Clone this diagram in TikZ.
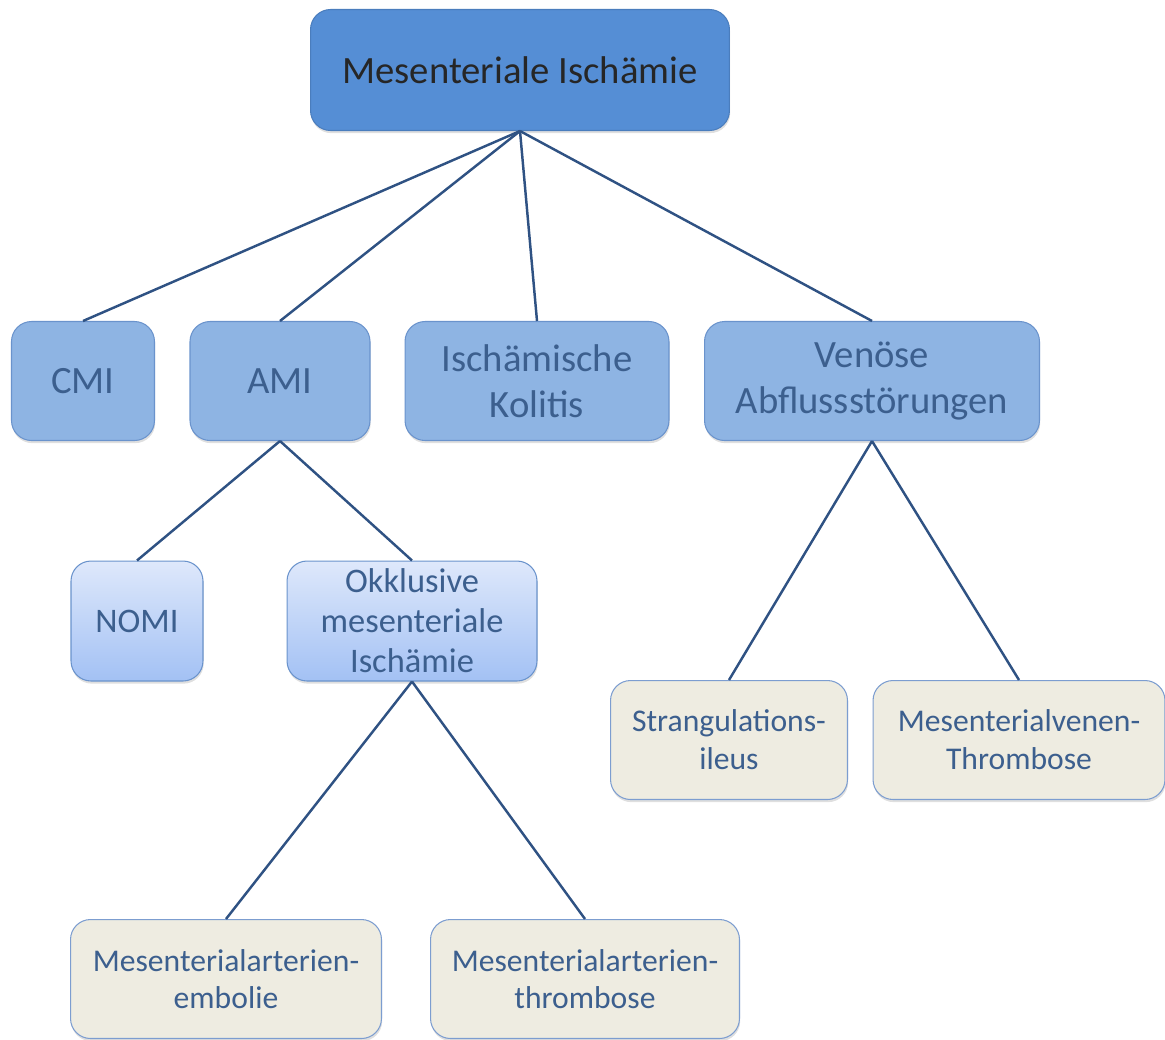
\documentclass[tikz,border=0pt]{standalone}
\usepackage{fontspec}
\setmainfont{Carlito}
\usetikzlibrary{shadows}
\definecolor{linie}{HTML}{2F5283}
\definecolor{textblau}{HTML}{3C5F8E}
\definecolor{wurzelfill}{HTML}{558ED5}
\definecolor{wurzelrand}{HTML}{4A7DBD}
\definecolor{ebeneeins}{HTML}{8EB4E3}
\definecolor{ebenerand}{HTML}{6A93CC}
\definecolor{helloben}{HTML}{DEE8FB}
\definecolor{hellunten}{HTML}{A3C1F4}
\definecolor{beige}{HTML}{EEECE1}
\definecolor{beigerand}{HTML}{7C9DD0}
\tikzset{
	kasten/.style={draw, rounded corners=0.4cm, align=center, inner sep=2pt, line width=0.6pt,
		drop shadow={opacity=0.25, shadow xshift=0.4pt, shadow yshift=-1.5pt}},
	wurzel/.style={kasten, fill=wurzelfill, draw=wurzelrand, text=black!85,
		font=\fontsize{22}{26}\selectfont},
	hauptast/.style={kasten, fill=ebeneeins, draw=ebenerand, text=textblau,
		font=\fontsize{22}{26.5}\selectfont},
	unterast/.style={kasten, top color=helloben, bottom color=hellunten, draw=ebenerand,
		text=textblau, font=\fontsize{19.6}{22.7}\selectfont},
	blatt/.style={kasten, fill=beige, draw=beigerand, text=textblau,
		font=\fontsize{18}{21.5}\selectfont},
	ast/.style={draw=linie, line width=1.4pt}
}

\begin{document}
\begin{tikzpicture}[x=0.02cm,y=-0.02cm]
	\useasboundingbox (0,0) rectangle (1165,1039);
	% oberste Ebene
	\node [wurzel, minimum width=8.38cm, minimum height=2.42cm] (mi) at (520,70) {Mesenteriale Isch\"amie};
	% erste Ebene
	\node [hauptast, minimum width=2.86cm, minimum height=2.38cm] (cmi) at (83,381) {CMI};
	\node [hauptast, minimum width=3.6cm, minimum height=2.38cm] (ami) at (280,381) {AMI};
	\node [hauptast, minimum width=5.28cm, minimum height=2.38cm] (kolitis) at (537,381) {Isch\"amische\\Kolitis};
	\node [hauptast, minimum width=6.7cm, minimum height=2.38cm] (venoes) at (872,381) {Ven\"ose\\Abflussst\"orungen};
	% zweite Ebene
	\node [unterast, minimum width=2.64cm, minimum height=2.4cm] (nomi) at (137,621) {NOMI};
	\node [unterast, minimum width=5cm, minimum height=2.4cm] (okkl) at (412,621) {Okklusive\\mesenteriale\\Isch\"amie};
	\node [blatt, minimum width=4.74cm, minimum height=2.38cm] (strang) at (729,740) {Strangulations-\\ileus};
	\node [blatt, minimum width=5.84cm, minimum height=2.38cm] (venthr) at (1019,740) {Mesenterialvenen-\\Thrombose};
	% dritte Ebene
	\node [blatt, minimum width=6.22cm, minimum height=2.38cm] (emb) at (226,979) {Mesenterialarterien-\\embolie};
	\node [blatt, minimum width=6.18cm, minimum height=2.38cm] (artthr) at (585,979) {Mesenterialarterien-\\thrombose};
	% Verbindungen
	\foreach \kind in {cmi,ami,kolitis,venoes}
		\draw [ast] (mi.south) -- (\kind.north);
	\draw [ast] (ami.south) -- (nomi.north);
	\draw [ast] (ami.south) -- (okkl.north);
	\draw [ast] (okkl.south) -- (emb.north);
	\draw [ast] (okkl.south) -- (artthr.north);
	\draw [ast] (venoes.south) -- (strang.north);
	\draw [ast] (venoes.south) -- (venthr.north);
\end{tikzpicture}
\end{document}
